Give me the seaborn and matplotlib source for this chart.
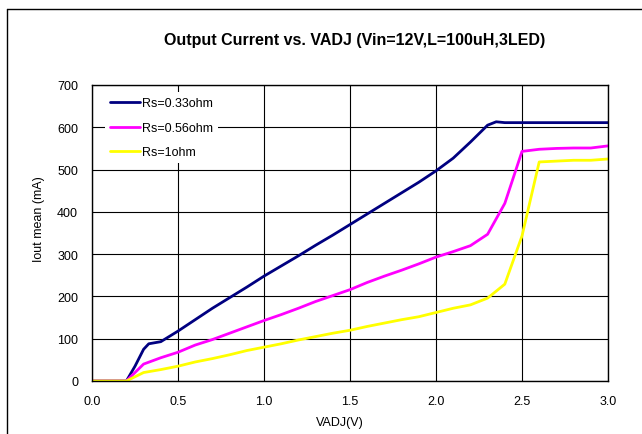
import numpy as np
import pandas as pd
import matplotlib
matplotlib.use("Agg")
import matplotlib.pyplot as plt
from matplotlib.lines import Line2D
import seaborn as sns

# ---- data ----
vadj = [0.0, 0.1, 0.2, 0.3, 0.4, 0.5, 0.6, 0.7, 0.8, 0.9, 1.0,
        1.1, 1.2, 1.3, 1.4, 1.5, 1.6, 1.7, 1.8, 1.9, 2.0,
        2.1, 2.2, 2.3, 2.4, 2.5, 2.6, 2.7, 2.8, 2.9, 3.0]

vadj_033 = [0.0, 0.1, 0.2, 0.25, 0.3, 0.33, 0.4, 0.5, 0.6, 0.7, 0.8, 0.9, 1.0,
            1.1, 1.2, 1.3, 1.4, 1.5, 1.6, 1.7, 1.8, 1.9, 2.0,
            2.1, 2.2, 2.3, 2.35, 2.4, 2.5, 2.6, 2.7, 2.8, 2.9, 3.0]
iout_033 = [0, 0, 0, 35, 75, 88, 93, 118, 145, 172, 197, 222, 248,
            272, 296, 321, 345, 370, 395, 420, 445, 470, 497,
            527, 565, 605, 613, 611, 611, 611, 611, 611, 611, 611]

iout_056 = [0, 0, 0, 40, 55, 68, 85, 98, 113, 128, 143,
            157, 172, 188, 202, 216, 233, 248, 262, 277, 293,
            306, 320, 347, 420, 543, 548, 550, 551, 551, 556]

iout_1 = [0, 0, 0, 20, 27, 35, 45, 53, 62, 72, 80,
          88, 97, 105, 113, 120, 129, 137, 145, 152, 162,
          172, 180, 196, 229, 343, 518, 520, 522, 522, 525]

labels = ["Rs=0.33ohm", "Rs=0.56ohm", "Rs=1ohm"]
colors = ["#000080", "#FF00FF", "#FFFF00"]

df = pd.concat([
    pd.DataFrame({"VADJ": vadj_033, "Iout": iout_033, "Rs": labels[0]}),
    pd.DataFrame({"VADJ": vadj, "Iout": iout_056, "Rs": labels[1]}),
    pd.DataFrame({"VADJ": vadj, "Iout": iout_1, "Rs": labels[2]}),
])

# ---- plot ----
sns.set_style("white")
plt.rcParams["font.family"] = ["Liberation Sans", "DejaVu Sans"]
plt.rcParams["text.color"] = "black"
plt.rcParams["axes.labelcolor"] = "black"
plt.rcParams["xtick.color"] = "black"
plt.rcParams["ytick.color"] = "black"

fig = plt.figure(figsize=(6.42, 4.35), dpi=100)
ax = fig.add_axes([92 / 642, 1 - 382 / 435, 516 / 642, 296 / 435])

sns.lineplot(data=df, x="VADJ", y="Iout", hue="Rs", palette=colors,
             linewidth=2.0, sort=False, estimator=None, ax=ax)

ax.set_xlim(0, 3.0)
ax.set_ylim(0, 700)
ax.set_xticks(np.arange(0, 3.01, 0.5))
ax.set_xticklabels([f"{t:.1f}" for t in np.arange(0, 3.01, 0.5)])
ax.set_yticks(np.arange(0, 701, 100))
ax.tick_params(length=0, labelsize=9, pad=10)
ax.grid(True, color="black", linewidth=0.8)
ax.set_axisbelow(True)
for s in ax.spines.values():
    s.set_color("black")
    s.set_linewidth(1.0)

ax.set_xlabel("VADJ(V)", fontsize=9)
ax.set_ylabel("Iout mean (mA)", fontsize=9)
ax.xaxis.set_label_coords(0.48, -0.118)
ax.yaxis.set_label_coords(-0.091, 0.55)

leg = ax.legend(loc="upper left", bbox_to_anchor=(0.025, 0.975),
                borderaxespad=0, fontsize=9, handlelength=2.4,
                handletextpad=0.15, labelspacing=1.0,
                frameon=True, facecolor="white", edgecolor="none",
                framealpha=1, fancybox=False)
for line in leg.get_lines():
    line.set_linewidth(2.0)

fig.text(355 / 642, 1 - 40 / 435,
         "Output Current vs. VADJ (Vin=12V,L=100uH,3LED)",
         ha="center", va="center", fontsize=11.5, fontweight="bold")

# outer chart frame (cropped at right/bottom)
fig.add_artist(Line2D([6.5 / 642, 6.5 / 642], [0, 1 - 9.5 / 435],
                      color="black", linewidth=1.0, transform=fig.transFigure))
fig.add_artist(Line2D([6.5 / 642, 1], [1 - 9.5 / 435, 1 - 9.5 / 435],
                      color="black", linewidth=1.0, transform=fig.transFigure))

plt.savefig("out.png", dpi=100)
